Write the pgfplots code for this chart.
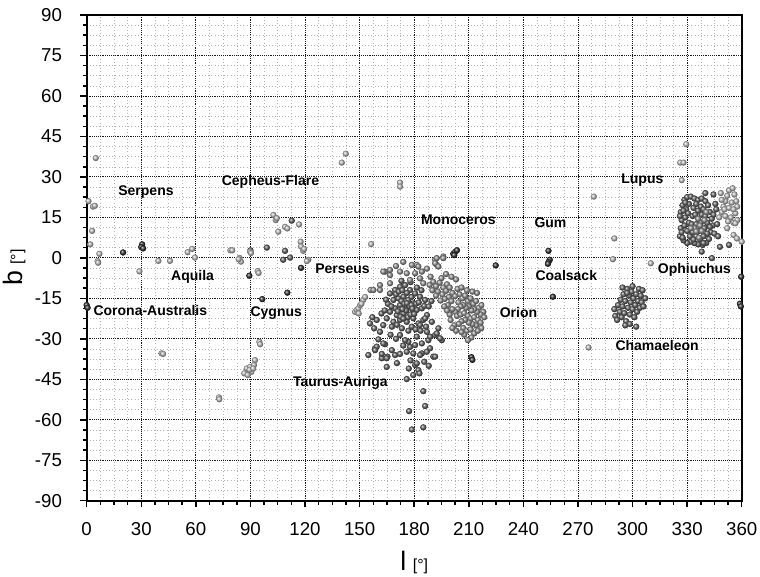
\documentclass[border=0pt]{standalone}
\usepackage{pgfplots}
\pgfplotsset{compat=1.18}
\usepackage{fontspec}
\setmainfont{Liberation Sans}
\makeatletter
\pgfdeclareplotmark{myball}{%
  \pgfpathcircle{\pgfpointorigin}{\pgfplotmarksize}%
  \pgfusepathqfill
  \pgfpathcircle{\pgfpointorigin}{\pgfplotmarksize}%
  \pgfshadepath{ball}{0}%
  \pgfusepath{discard}%
}
\makeatother
\pgfplotsset{
  ballplot/.style={only marks, mark=myball, mark size=2.3pt, draw=none,
    mark options={draw=none, fill=#1, ball color=#1}},
}
\begin{document}
\begin{tikzpicture}
\begin{axis}[
  scale only axis,
  width=491.3pt, height=364.3pt,
  xmin=0, xmax=360, ymin=-90, ymax=90,
  xtick={0,30,...,360}, ytick={-90,-75,...,90},
  xticklabels={0,30,60,90,120,150,180,210,240,270,300,330,360},
  yticklabels={-90,-75,-60,-45,-30,-15,0,15,30,45,60,75,90},
  minor tick num=3,
  tick align=outside, xtick pos=bottom, ytick pos=left,
  major tick length=5pt, minor tick length=3pt,
  tick style={black, line width=1.1pt},
  axis line style={black, line width=1.4pt},
  grid=both,
  major grid style={densely dotted, black!90, line width=0.65pt},
  minor grid style={dotted, black!30, line width=0.4pt},
  tick label style={font=\fontsize{14}{16}\selectfont},
  xticklabel style={yshift=-8pt},
  yticklabel style={xshift=-10pt},
  xlabel={{\fontsize{20}{20}\selectfont l}\hspace{5pt}{\fontsize{12}{12}\selectfont[°]}},
  ylabel={{\fontsize{20}{20}\selectfont b}\hspace{5pt}{\fontsize{12}{12}\selectfont[°]}},
  xlabel style={at={(axis description cs:0.5,-0.1427)}, anchor=base},
  ylabel style={at={(axis description cs:-0.0987,0.48)}, anchor=base},
]
% very dark
\addplot[ballplot=black!80] coordinates {
(20,2)(30.5,5)(30,4)(31,3.5)(0,-17.5)(0.5,-18.5)
(201.5,1.5)(202.5,2.2)(203.5,2.8)(202,1)(224.8,-2.8)
(253.8,2.6)(254.5,-0.7)(253.8,-1.6)(253.5,-2.2)(256.2,-14.4)
(211.5,-36.8)(212,-37.8)(359.7,-7)(359,-17)(359.5,-18)
(89.4,-6.6)(117.8,-3.7)(110.3,-12.9)(96.5,-15.3)
};
% dark gray
\addplot[ballplot=black!60] coordinates {
(112.7,13.8)(111.8,0.1)(108,-0.7)(109,2.6)(99,3.8)(90,2.8)
(155.7,-24.3)(159.4,-23)(162,-20.6)(158,-26.1)(160.3,-30.2)(158.5,-33.5)(164,-32)(165.3,-36.6)
(167.7,-34.2)(154.8,-36)(162.2,-37.2)(164.9,-40.4)(163,-31.7)(161.2,-27.4)(163,-24.9)(157,-22)
(166.7,-13.2)(169.5,-11.9)(172.2,-10.7)(175,-10.1)(177.7,-11.9)(180.5,-13.2)(183.2,-14.4)(186,-15.6)
(168.6,-15.6)(171.3,-15)(174.1,-14.4)(176.8,-15.6)(179.5,-16.9)(172.2,-17.5)(175,-18.1)(169.5,-18.7)
(166.7,-20)(170.4,-21.2)(174.1,-20.6)(177.7,-20)(181.4,-19.3)(184.2,-18.7)(164.9,-22.4)(168.6,-23.7)
(172.2,-23)(175.9,-23.7)(179.5,-22.4)(182.3,-24.3)(178.7,-25.5)(173.2,-26.1)(167.7,-25.5)(185,-23)(187,-21.2)
(173,-16)(174.5,-17)(176,-16.8)(177.5,-18)(178.5,-17.5)(175.5,-19.5)(173.5,-19)(171,-19.8)
(172.5,-21.8)(176.5,-22)(178,-21)(180,-20.8)(179,-18.8)(181,-17)(182.5,-16.5)(170,-13.5)
(171.5,-12.5)(173.5,-12)(176,-13)(178.5,-14.5)(174,-22.5)(170.5,-24.8)(176.8,-27)(180.8,-26.5)
(183.5,-27)(186.5,-25.5)(185.5,-17.8)(188,-18)(189.5,-16)(165.5,-17)(167.5,-18)(163.8,-19.5)
(164.5,-15.5)(181.5,-11)(184,-12)(178,-9)(173,-8.5)
(183.2,-24.9)(186,-22.4)(189.7,-23.7)(193.3,-26.1)(191.5,-28.6)(187.8,-30.5)(195.2,-30.5)(181.4,-29.2)
(177.7,-33)(184.2,-35.4)(190.5,-36.6)(180.5,-39.7)
(159.4,-32.9)(158.5,-34.2)(162.2,-35.6)(164.9,-37.2)(169.5,-36)(172.2,-35.6)(175.9,-34.8)
(179.5,-35.4)(183.2,-36)(176.8,-31.1)(180.5,-32.3)(184.2,-31.7)(188.7,-33.5)(191.5,-36.6)(186.9,-34.8)
(181.4,-39.1)(182.3,-41.6)(182.9,-42.8)(179.5,-43.4)(175.9,-44.9)(185,-49.4)(177.2,-56.8)(186,-54.9)
(178.7,-63.6)(185,-62.8)(172.2,-28.6)(175,-30.5)(188.7,-29.2)(192.4,-28)(194.2,-29.8)(187,-27.4)
(170,-30)(167,-28.5)(174,-32.5)(178,-38)(170.5,-39)(185.5,-38.5)(188,-40)(177,-41)
(326,8)(326.5,11)(327,14)(326.5,17)(327.5,19.5)(328.5,21.5)(330,22.5)(332,22.7)(334,22)(336,21.5)
(338,22)(340,21)(341.5,19.5)(342.5,17)(343.5,14.5)(344,12)(343,9.5)(342,7)(340.5,5.5)(338.5,4.8)
(336,5)(334,5.5)(332,6)(330,5.5)(328,6.5)(327,9.5)(328.5,12)(329,15)(329.5,18)(331,20)
(330.5,16.5)(331,13)(330,10)(331.5,8)(333,9.5)(332.5,12.5)(333,15.5)(333.5,18.5)(335,20)(336,17.5)
(337.5,19)(339,18)(338,16)(340,15.5)(341,13)(339.5,11)(341,9)(339,8)(337,7)(335,8)
(336.5,10)(335,12.5)(337.5,13)(334.5,16)(328,17.5)(329,20.5)(326,15.5)(327.5,7.5)(333.5,6.8)(339,5.5)
(342.5,11.5)(344.5,16)(345.5,20)(346.5,12.5)(345,9)(344.5,23.5)(340,24)(338,2.3)(343.6,-0.1)(348,4.1)
(353,4.8)(346,18)(347,8)
(290,-19)(290.5,-21.5)(291.5,-23)(292,-17.5)(293,-20)(293.5,-15.5)(294,-22)(294.5,-18)(295,-13.5)
(295.5,-20.5)(296,-16)(296.5,-23.5)(297,-11.5)(297.5,-18.5)(298,-14)(298.5,-21)(299,-16.5)(299.5,-12.5)
(300,-19)(300.5,-15)(301,-22)(301.5,-17.5)(302,-13.5)(302.5,-20)(303,-16)(303.5,-11.5)(304,-18.5)
(304.5,-14)(305,-16.5)(305.5,-12)(306,-18)(307,-15)(296,-25)(298.5,-24.5)(300,-10.5)(297,-13)
(294.5,-11)(302,-25.5)
};
% medium gray
\addplot[ballplot=black!42] coordinates {
(156,-11.9)(161.2,-10.1)(164,-5.1)(166.7,-6.4)(163,-5.1)(166.7,-4.5)(172.2,-5.1)(175.9,-5.7)
(181.4,-2.6)(184.2,-5.1)(166.7,-9.4)(161.2,-11.9)(157.6,-11.9)(178.7,-2.6)(182.3,-3.2)(180.5,-5.7)
(183.2,-7.6)(177.7,-8.2)(185,-9.4)(191.5,-0.7)(196,0.5)(192.4,-2.6)(192.4,-0.1)(196,-0.1)
(191.5,-2)(193.3,-3.2)(170,-3)(174,-1.5)(187,-4)(189,-7)
(190.5,-8.9)(192,-10.5)(194,-9.2)(196,-11)(198,-9.8)(193,-12.5)(195.5,-13.5)(197.5,-12.2)
(199.5,-11)(201,-13)(199,-14.5)(196.8,-15.2)(194.5,-15.8)(200.5,-16)(202.5,-14.2)(203.8,-11.5)
(204.3,-16.5)(198.5,-17.5)(192,-14)(190,-12)(188.5,-10)
(205,-13.5)(206.5,-15)(208,-14)(209.5,-16)(211,-15)(212.5,-17)(214,-16)(215.5,-18.5)(217,-17.5)
(218,-20)(216.5,-21)(214.5,-20)(213,-19)(211.5,-19.5)(210,-18)(208.5,-18.5)(207,-17.5)(205.5,-18)
(204,-19)(202.5,-20)(201,-19)(203.5,-21.5)(205.5,-21)(207.5,-20.5)(209.5,-21.5)(211,-22.5)(213,-22)
(215,-23)(216.5,-24)(214,-25)(212,-24.5)(210,-24)(208,-23)(206,-23.5)(204.5,-24.5)(207,-26)
(209,-27)(211,-26.5)(213,-28)(211.5,-29.5)(209.5,-30.5)(207.5,-28.5)(206,-27.5)(215,-27)(199.5,-21)
(200,-23)(202,-25)(203,-27)(201,-26)(198,-19.5)(196.5,-18)(214.5,-13)(212,-12.5)(209,-12)(206,-11)
(203,-8)(200.5,-7)(197.5,-6)(195,-7.5)(218.5,-22)(217,-26)
(334,11)(336,14.5)(338,10)(337,12)(335,9.8)(339.5,14)(332,11)(336.5,7.5)(340.5,17)
};
% light gray
\addplot[ballplot=black!25] coordinates {
(5,37)(1,21)(3.5,19)(4.5,19.3)(3,10)(2,5)(7,1.5)(6,-1.2)(6.3,-1.8)(29,-5)(39.4,-1.1)(45.8,-1.1)
(55.5,2.1)(58,3.3)(59.5,0.1)(79,2.8)(80,2.8)(84,0)(84.8,-1.4)(83.5,-0.5)(89.8,2.3)(90.3,1.8)
(94,-4.9)(94.5,-5.6)(102.6,15.9)(103.9,14)(104.5,14.7)(105.3,9.7)(109,11.5)(110.3,10.9)(116.7,12.4)
(117.6,6)(117.8,4.2)(119,2.6)(119.5,3.3)(121.8,-0.7)(121,-1.2)(140.2,35.3)(142.4,38.6)(156.3,5.1)
(172.2,27.9)(172.2,26.4)(278.7,22.7)(290,7.2)(289.2,-0.5)(310,-2)(329.5,42.1)(326.2,35.3)(328,35.3)
(327.1,28.8)(275.8,-33.2)(41.2,-35.4)(42,-35.6)(72.7,-51.7)(72.9,-52.4)(94.9,-31.1)(95.3,-32)
(86.6,-42.8)(88,-41)(89.8,-40.4)(90.7,-42.2)(92,-39.7)(92.5,-37.9)(88.5,-43.4)(89.5,-41.5)(91.5,-41)
(355.5,8.5)(357.3,7.2)(360,6)(147.5,-20)(148.4,-19.3)(149.3,-18.7)(150.3,-17.5)(152,-15.6)
(149.5,-20.6)(151,-17)(153,-14.5)
(347.6,15)(349,17)(350,19)(351,21)(352,23)(353,25)(355,25.8)(356,23.5)(357,21)(357.5,19)
(356.5,16.5)(357.6,14)(355.5,13)(354,15)(352.5,13.5)(351,15.5)(350.5,18)(353,18.5)(354.5,20.5)
(355.5,18)(349,21.5)(348.5,24)(356.5,12.8)(352,11)
};
\begin{scope}[font=\bfseries\fontsize{10.5}{12}\selectfont]
\node at (axis cs:32.6,24.5) {Serpens};
\node at (axis cs:101,28.2) {Cepheus-Flare};
\node at (axis cs:58.2,-7) {Aquila};
\node at (axis cs:140.6,-3.9) {Perseus};
\node at (axis cs:35,-19.6) {Corona-Australis};
\node at (axis cs:104.2,-20.3) {Cygnus};
\node at (axis cs:139.4,-46.3) {Taurus-Auriga};
\node at (axis cs:204.3,14) {Monoceros};
\node at (axis cs:254.9,13) {Gum};
\node at (axis cs:263.6,-6.4) {Coalsack};
\node at (axis cs:334,-4.3) {Ophiuchus};
\node at (axis cs:305.4,28.8) {Lupus};
\node at (axis cs:237.3,-20.3) {Orion};
\node at (axis cs:313.5,-32.3) {Chamaeleon};
\end{scope}
\coordinate (SW) at (rel axis cs:0,0);
\coordinate (NE) at (rel axis cs:1,1);
\end{axis}
\pgfresetboundingbox
\path[use as bounding box] ([shift={(-65pt,-56.5pt)}]SW) rectangle ([shift={(13.7pt,11.25pt)}]NE);
\end{tikzpicture}
\end{document}
